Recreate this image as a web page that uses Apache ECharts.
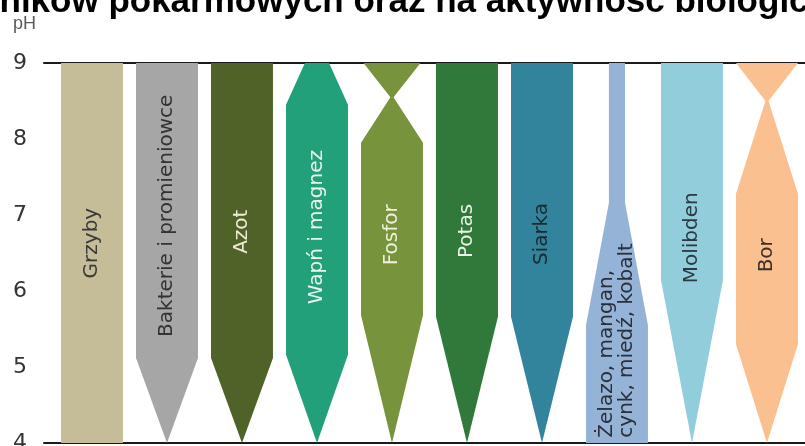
<!DOCTYPE html>
<html>
<head>
<meta charset="utf-8">
<script src="https://cdn.jsdelivr.net/npm/echarts@6/dist/echarts.min.js"></script>
<style>html,body{margin:0;padding:0;background:#fff;}#c{width:805px;height:446px;}</style>
</head>
<body>
<div id="c"></div>
<script>
// ---- data ----
const titleText = 'składników pokarmowych oraz na aktywność biologiczną';
const axisName = 'pH';
const yTicks = [4, 5, 6, 7, 8, 9];
const categories = ['Grzyby', 'Bakterie i promieniowce', 'Azot', 'Wapń i magnez', 'Fosfor', 'Potas', 'Siarka', 'Żelazo, mangan,\ncynk, miedź, kobalt', 'Molibden', 'Bor'];
// pH break points of each band (top to bottom)
const profilePH = [
  [9, 4],
  [9, 5.12, 4],
  [9, 5.12, 4],
  [9, 8.45, 5.16, 4],
  [9, 8.55, 7.95, 5.68, 4],
  [9, 5.66, 4],
  [9, 5.66, 4],
  [9, 7.16, 5.55, 4],
  [9, 6.14, 4],
  [9, 8.5, 7.28, 5.3, 4]
];
// relative availability (band width share) at those pH points
const profileWidth = [
  [1, 1],
  [1, 1, 0],
  [1, 1, 0],
  [0.39, 1, 1, 0],
  [0.92, 0.05, 1, 1, 0],
  [1, 1, 0],
  [1, 1, 0],
  [0.26, 0.26, 1, 1],
  [1, 1, 0],
  [1, 0.05, 1, 1, 0]
];

// ---- styles ----
const colors = ['#C4BD97', '#A6A6A6', '#4F6228', '#22A079', '#77933C', '#30793A', '#31849B', '#95B3D7', '#92CDDC', '#FAC090'];
const textColors = ['#3a3a3a', '#333333', '#EEEBD2', '#E8F4EC', '#EEF0DA', '#E9F1E6', '#1A2A30', '#2A2F3A', '#2A3A40', '#3A3028'];
const labelAt = [6.63, 6.99, 6.78, 6.84, 6.74, 6.79, 6.75, 4.07, 6.70, 6.47];
const labelAlign = ['center', 'center', 'center', 'center', 'center', 'center', 'center', 'left', 'center', 'center'];
const HALF = 0.413;
const labelFont = '20px "DejaVu Sans"';

const chart = echarts.init(document.getElementById('c'));

function renderItem(params, api) {
  const i = params.dataIndex;
  const x = api.value(0);
  const phs = profilePH[i], ws = profileWidth[i];
  const pts = [];
  for (let k = 0; k < phs.length; k++) pts.push(api.coord([x - HALF * ws[k], phs[k]]));
  for (let k = phs.length - 1; k >= 0; k--) pts.push(api.coord([x + HALF * ws[k], phs[k]]));
  const lp = api.coord([x, labelAt[i]]);
  return {
    type: 'group',
    children: [
      { type: 'polygon', shape: { points: pts }, style: { fill: colors[i] } },
      {
        type: 'text', x: lp[0], y: lp[1], rotation: Math.PI / 2, z2: 10,
        style: {
          text: categories[i], fill: textColors[i], font: labelFont,
          align: labelAlign[i], verticalAlign: 'middle', lineHeight: 20
        }
      }
    ]
  };
}

chart.setOption({
  animation: false,
  title: [
    {
      text: titleText, left: -90, top: -15, padding: 0,
      textStyle: { fontFamily: '"Liberation Sans", Arial', fontWeight: 'bold', fontSize: 35, color: '#000' }
    },
    {
      text: axisName, left: 13, top: 15, padding: 0,
      textStyle: { fontFamily: '"Liberation Sans Narrow", "Liberation Sans", Arial', fontWeight: 'normal', fontSize: 18, color: '#595959' }
    }
  ],
  grid: { left: 44, right: 0, top: 63, bottom: 3, containLabel: false, outerBoundsMode: 'none' },
  xAxis: [
    { type: 'value', min: -0.64, max: 9.507, position: 'bottom',
      axisLine: { show: true, onZero: false, lineStyle: { color: '#1a1a1a', width: 2 } },
      axisTick: { show: false }, axisLabel: { show: false }, splitLine: { show: false } },
    { type: 'value', min: -0.64, max: 9.507, position: 'top',
      axisLine: { show: true, onZero: false, lineStyle: { color: '#1a1a1a', width: 2 } },
      axisTick: { show: false }, axisLabel: { show: false }, splitLine: { show: false } }
  ],
  yAxis: {
    type: 'value', min: yTicks[0], max: yTicks[yTicks.length - 1], interval: 1,
    axisLine: { show: true, lineStyle: { color: '#1a1a1a', width: 2 } },
    axisTick: { show: true, length: 8, lineStyle: { color: '#1a1a1a', width: 2 } },
    axisLabel: { color: '#333', fontSize: 22, fontFamily: '"DejaVu Sans"', margin: 17 },
    splitLine: { show: false }
  },
  series: [{
    type: 'custom',
    renderItem: renderItem,
    data: categories.map((c, i) => [i]),
    encode: { x: 0 },
    clip: false
  }]
});
</script>
</body>
</html>
